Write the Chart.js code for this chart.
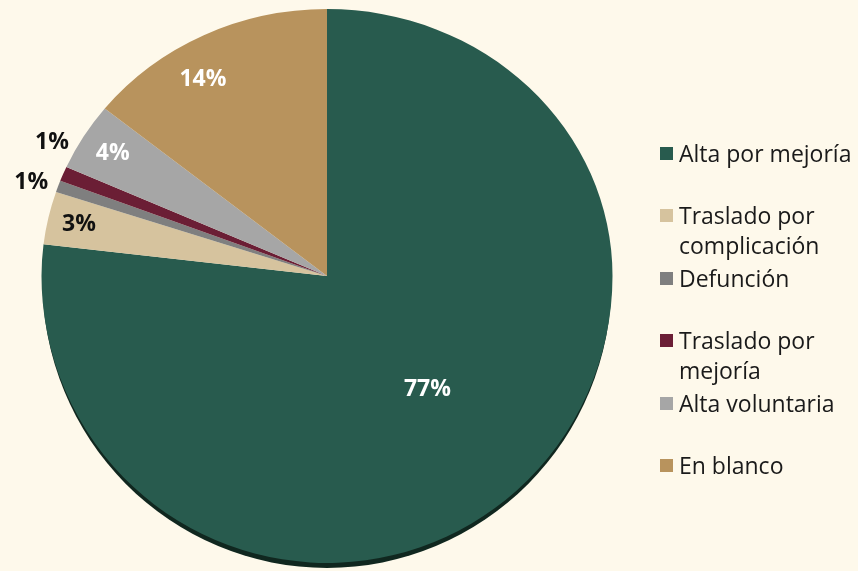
<!DOCTYPE html>
<html>
<head>
<meta charset="utf-8">
<script src="https://cdn.jsdelivr.net/npm/chart.js@4"></script>
<style>
  html, body { margin: 0; padding: 0; background: #fef9eb; }
  #wrap { position: relative; width: 858px; height: 571px; }
  #legend { position: absolute; left: 0; top: 0; }
  .item { position: absolute; left: 660px; width: 198px; font-family: "Open Sans", sans-serif;
          font-size: 23px; line-height: 30px; color: #1a1a1a; }
  .item span.box { position: absolute; left: 0; top: 9px; width: 13px; height: 13px; }
  .item span.txt { display: block; margin-left: 19px; width: 178px; }
</style>
</head>
<body>
<div id="wrap">
  <canvas id="pie" width="858" height="571"></canvas>
  <div id="legend"></div>
</div>
<script>
// categories and shares (%)
const categories = ['Alta por mejoría', 'Traslado por complicación', 'Defunción',
                    'Traslado por mejoría', 'Alta voluntaria', 'En blanco'];
const shares = [76.9, 3.2, 0.7, 0.9, 4.1, 14.2];
const colors = ['#285b4e', '#d6c39e', '#7f7f7f', '#6b1e35', '#a6a6a6', '#b8935d'];
const labelColors = ['#ffffff', '#111111', '#111111', '#111111', '#ffffff', '#ffffff'];

// the original pie is tilted: upper half flatter than lower half
const apexY = 276;
const topScale = 0.935;
const bottomScale = 1.005;

// where each % label sits: fraction of the radius, plus a small angle nudge (deg)
const labelPlace = [
  { r: 0.53, da: 0 },
  { r: 0.89, da: 0 },
  { r: 1.093, da: -1 },
  { r: 1.086, da: 5 },
  { r: 0.88, da: 0 },
  { r: 0.855, da: -5 },
];

const tiltPlugin = {
  id: 'tilt',
  beforeDatasetsDraw(chart) {
    const meta = chart.getDatasetMeta(0);
    const first = meta.data[0];
    const ctx = chart.ctx;
    const R = first.outerRadius;
    // dark rim under the pie
    ctx.save();
    ctx.fillStyle = '#10271f';
    ctx.beginPath();
    ctx.ellipse(first.x, apexY + 5, R - 1, R * bottomScale, 0, 0, Math.PI);
    ctx.fill();
    ctx.restore();
    [[0, apexY, topScale], [apexY, chart.height - apexY, bottomScale]].forEach(([y0, h, s]) => {
      ctx.save();
      ctx.beginPath();
      ctx.rect(0, y0, chart.width, h);
      ctx.clip();
      ctx.translate(0, apexY);
      ctx.scale(1, s);
      ctx.translate(0, -first.y);
      meta.data.forEach(arc => arc.draw(ctx));
      ctx.restore();
    });
    return false;
  }
};

const labelPlugin = {
  id: 'pctLabels',
  afterDraw(chart) {
    const ctx = chart.ctx;
    const meta = chart.getDatasetMeta(0);
    ctx.save();
    ctx.font = 'bold 23px "Open Sans", sans-serif';
    ctx.textAlign = 'center';
    ctx.textBaseline = 'middle';
    meta.data.forEach((arc, i) => {
      const p = labelPlace[i];
      const mid = (arc.startAngle + arc.endAngle) / 2 + p.da * Math.PI / 180;
      const r = arc.outerRadius * p.r;
      const sy = Math.sin(mid) < 0 ? topScale : bottomScale;
      const x = arc.x + Math.cos(mid) * r;
      const y = apexY + Math.sin(mid) * r * sy;
      ctx.fillStyle = labelColors[i];
      ctx.fillText(Math.round(shares[i]) + '%', x, y);
    });
    ctx.restore();
  }
};

new Chart(document.getElementById('pie'), {
  type: 'pie',
  data: {
    labels: categories,
    datasets: [{
      data: shares,
      backgroundColor: colors,
      borderWidth: 0,
    }]
  },
  options: {
    responsive: false,
    animation: false,
    layout: { padding: { left: 41, right: 245, top: 0, bottom: 0 } },
    plugins: {
      legend: { display: false },
      tooltip: { enabled: false },
    },
  },
  plugins: [tiltPlugin, labelPlugin]
});

// legend on the right, one slot every ~62px
const legend = document.getElementById('legend');
categories.forEach((name, i) => {
  const item = document.createElement('div');
  item.className = 'item';
  item.style.top = (138 + i * 62.4) + 'px';
  item.innerHTML = '<span class="box" style="background:' + colors[i] + '"></span><span class="txt">' + name + '</span>';
  legend.appendChild(item);
});
</script>
</body>
</html>
